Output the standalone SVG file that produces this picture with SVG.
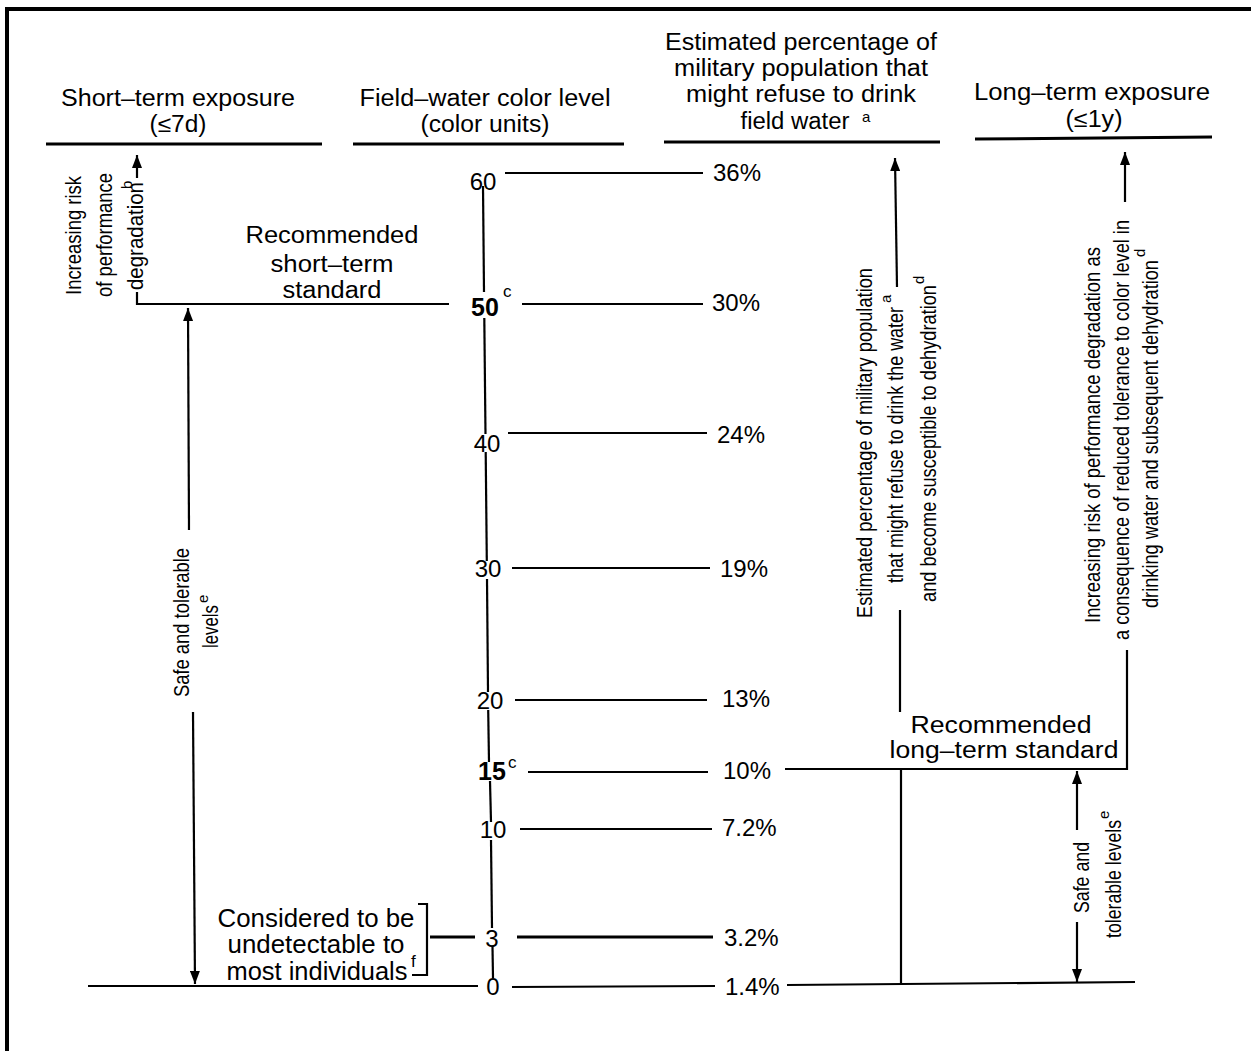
<svg xmlns="http://www.w3.org/2000/svg" width="1251" height="1051" viewBox="0 0 1251 1051">
<defs>
<style>
.t{font-family:"Liberation Sans",Arial,Helvetica,sans-serif;fill:#000}
.h{font-size:23px}
.lb{font-size:25px}
.n{font-size:24px}
.nb{font-size:25px;font-weight:bold}
.r{font-size:22px}
.sup{font-size:17px}
.sa{font-size:15px}
.rs{font-size:15px}
.ln{stroke:#000;stroke-width:2.2;fill:none}
.hl{stroke:#000;stroke-width:3;fill:none}
.arr{stroke:#000;stroke-width:2.2;fill:none;marker-end:url(#ah)}
</style>
<marker id="ah" viewBox="0 0 13 10" refX="13" refY="5" markerWidth="13" markerHeight="10" markerUnits="userSpaceOnUse" orient="auto">
<path d="M0,0 L13,5 L0,10 Z" fill="#000"/>
</marker>
</defs>
<rect x="0" y="0" width="1251" height="1051" fill="#fff"/>
<path d="M7,1051 V9 H1251" stroke="#000" stroke-width="4" fill="none"/>

<g id="header-short">
<text class="t h" x="178" y="106" text-anchor="middle" textLength="234" lengthAdjust="spacingAndGlyphs">Short–term exposure</text>
<text class="t h" x="178" y="132" text-anchor="middle" textLength="57" lengthAdjust="spacingAndGlyphs">(≤7d)</text>
<line class="hl" x1="46" y1="144" x2="322" y2="144"/>
</g>
<g id="header-field">
<text class="t h" x="485" y="106" text-anchor="middle" textLength="251" lengthAdjust="spacingAndGlyphs">Field–water color level</text>
<text class="t h" x="485" y="132" text-anchor="middle" textLength="129" lengthAdjust="spacingAndGlyphs">(color units)</text>
<line class="hl" x1="353" y1="144" x2="624" y2="144"/>
</g>
<g id="header-estimated">
<text class="t h" x="801" y="50" text-anchor="middle" textLength="272" lengthAdjust="spacingAndGlyphs">Estimated percentage of</text>
<text class="t h" x="801" y="76" text-anchor="middle" textLength="254" lengthAdjust="spacingAndGlyphs">military population that</text>
<text class="t h" x="801" y="102" text-anchor="middle" textLength="230" lengthAdjust="spacingAndGlyphs">might refuse to drink</text>
<text class="t h" x="795" y="129" text-anchor="middle" textLength="109" lengthAdjust="spacingAndGlyphs">field water</text>
<text class="t sa" x="862" y="122">a</text>
<line class="hl" x1="664" y1="142" x2="940" y2="142"/>
</g>
<g id="header-long">
<text class="t h" x="1092" y="100" text-anchor="middle" textLength="236" lengthAdjust="spacingAndGlyphs">Long–term exposure</text>
<text class="t h" x="1094" y="127" text-anchor="middle" textLength="57" lengthAdjust="spacingAndGlyphs">(≤1y)</text>
<line class="hl" x1="975" y1="139" x2="1212" y2="137"/>
</g>

<g id="connectors">
<line class="ln" x1="483" y1="186" x2="484" y2="292"/>
<line class="ln" x1="484.3" y1="318" x2="485.5" y2="434"/>
<line class="ln" x1="485.7" y1="452" x2="486.8" y2="561"/>
<line class="ln" x1="487" y1="579" x2="488" y2="692"/>
<line class="ln" x1="488.2" y1="710" x2="489" y2="762"/>
<line class="ln" x1="490" y1="781" x2="491" y2="822"/>
<line class="ln" x1="491" y1="840" x2="492" y2="928"/>
<line class="ln" x1="492.5" y1="947" x2="493" y2="978"/>
<line class="ln" x1="505" y1="173" x2="703" y2="173"/>
<line class="ln" x1="522" y1="304" x2="703" y2="304"/>
<line class="ln" x1="508" y1="433" x2="707" y2="433"/>
<line class="ln" x1="512" y1="568" x2="710" y2="568"/>
<line class="ln" x1="515" y1="700" x2="707" y2="700"/>
<line class="ln" x1="528" y1="772" x2="708" y2="772"/>
<line class="ln" x1="520" y1="829" x2="712" y2="829"/>
<line class="hl" x1="517" y1="937" x2="713" y2="937"/>
<line class="ln" x1="512" y1="987" x2="715" y2="986"/>
<path class="ln" d="M137,292 V304 H449"/>
<line class="arr" x1="137" y1="178" x2="137" y2="155"/>
<line class="arr" x1="189" y1="530" x2="188" y2="308"/>
<line class="arr" x1="193" y1="712" x2="195" y2="984"/>
<line class="ln" x1="88" y1="986" x2="478" y2="986"/>
<path class="ln" d="M418,904 H427 V975 H412"/>
<line class="hl" x1="430" y1="937" x2="475" y2="937"/>
<line class="arr" x1="897" y1="287" x2="895" y2="158"/>
<line class="ln" x1="900" y1="610" x2="900" y2="712"/>
<line class="ln" x1="901" y1="768" x2="901" y2="984"/>
<path class="ln" d="M785,769 H1127 V650"/>
<line class="arr" x1="1125" y1="202" x2="1125" y2="152"/>
<line class="arr" x1="1077" y1="830" x2="1077" y2="771"/>
<line class="arr" x1="1077" y1="922" x2="1077" y2="982"/>
<line class="ln" x1="787" y1="985" x2="1135" y2="982"/>
</g>

<g id="scale-labels">
<text class="t n" x="483" y="190" text-anchor="middle">60</text>
<text class="t nb" x="485" y="316" text-anchor="middle">50</text>
<text class="t sup" x="503" y="297">c</text>
<text class="t n" x="487" y="452" text-anchor="middle">40</text>
<text class="t n" x="488" y="577" text-anchor="middle">30</text>
<text class="t n" x="490" y="709" text-anchor="middle">20</text>
<text class="t nb" x="492" y="780" text-anchor="middle">15</text>
<text class="t sup" x="508" y="768">c</text>
<text class="t n" x="493" y="838" text-anchor="middle">10</text>
<text class="t n" x="492" y="947" text-anchor="middle">3</text>
<text class="t n" x="493" y="995" text-anchor="middle">0</text>
</g>

<g id="percent-labels">
<text class="t n" x="713" y="181">36%</text>
<text class="t n" x="712" y="311">30%</text>
<text class="t n" x="717" y="443">24%</text>
<text class="t n" x="720" y="577">19%</text>
<text class="t n" x="722" y="707">13%</text>
<text class="t n" x="723" y="779">10%</text>
<text class="t n" x="722" y="836">7.2%</text>
<text class="t n" x="724" y="946">3.2%</text>
<text class="t n" x="725" y="995">1.4%</text>
</g>

<g id="short-risk-label">
<text class="t r" transform="translate(81,295) rotate(-90)" textLength="119" lengthAdjust="spacingAndGlyphs">Increasing risk</text>
<text class="t r" transform="translate(112,297) rotate(-90)" textLength="124" lengthAdjust="spacingAndGlyphs">of performance</text>
<text class="t r" transform="translate(143,290) rotate(-90)" textLength="108" lengthAdjust="spacingAndGlyphs">degradation</text>
<text class="t rs" transform="translate(132,189) rotate(-90)">b</text>
</g>

<g id="short-standard-label">
<text class="t h" x="332" y="243" text-anchor="middle" textLength="173" lengthAdjust="spacingAndGlyphs">Recommended</text>
<text class="t h" x="332" y="272" text-anchor="middle" textLength="123" lengthAdjust="spacingAndGlyphs">short–term</text>
<text class="t h" x="332" y="298" text-anchor="middle" textLength="99" lengthAdjust="spacingAndGlyphs">standard</text>
</g>

<g id="short-safe-label">
<text class="t r" transform="translate(189,697) rotate(-90)" textLength="149" lengthAdjust="spacingAndGlyphs">Safe and tolerable</text>
<text class="t r" transform="translate(218,648) rotate(-90)" textLength="43" lengthAdjust="spacingAndGlyphs">levels</text>
<text class="t rs" transform="translate(208,603) rotate(-90)">e</text>
</g>

<g id="undetectable-label">
<text class="t lb" x="316" y="927" text-anchor="middle" textLength="197" lengthAdjust="spacingAndGlyphs">Considered to be</text>
<text class="t lb" x="316" y="953" text-anchor="middle" textLength="177" lengthAdjust="spacingAndGlyphs">undetectable to</text>
<text class="t lb" x="317" y="980" text-anchor="middle" textLength="181" lengthAdjust="spacingAndGlyphs">most individuals</text>
<text class="t sup" x="411" y="967">f</text>
</g>

<g id="refuse-label">
<text class="t r" transform="translate(872,618) rotate(-90)" textLength="350" lengthAdjust="spacingAndGlyphs">Estimated percentage of military population</text>
<text class="t r" transform="translate(903,583) rotate(-90)" textLength="276" lengthAdjust="spacingAndGlyphs">that might refuse to drink the water</text>
<text class="t rs" transform="translate(891,303) rotate(-90)">a</text>
<text class="t r" transform="translate(936,602) rotate(-90)" textLength="317" lengthAdjust="spacingAndGlyphs">and become susceptible to dehydration</text>
<text class="t rs" transform="translate(924,284) rotate(-90)">d</text>
</g>

<g id="long-risk-label">
<text class="t r" transform="translate(1100,623) rotate(-90)" textLength="376" lengthAdjust="spacingAndGlyphs">Increasing risk of performance degradation as</text>
<text class="t r" transform="translate(1129,640) rotate(-90)" textLength="420" lengthAdjust="spacingAndGlyphs">a consequence of reduced tolerance to color level in</text>
<text class="t r" transform="translate(1158,608) rotate(-90)" textLength="348" lengthAdjust="spacingAndGlyphs">drinking water and subsequent dehydration</text>
<text class="t rs" transform="translate(1145,257) rotate(-90)">d</text>
</g>

<g id="long-standard-label">
<text class="t h" x="1001" y="733" text-anchor="middle" textLength="181" lengthAdjust="spacingAndGlyphs">Recommended</text>
<text class="t h" x="1004" y="758" text-anchor="middle" textLength="229" lengthAdjust="spacingAndGlyphs">long–term standard</text>
</g>

<g id="long-safe-label">
<text class="t r" transform="translate(1089,913) rotate(-90)" textLength="71" lengthAdjust="spacingAndGlyphs">Safe and</text>
<text class="t r" transform="translate(1121,938) rotate(-90)" textLength="118" lengthAdjust="spacingAndGlyphs">tolerable levels</text>
<text class="t rs" transform="translate(1109,819) rotate(-90)">e</text>
</g>
</svg>
